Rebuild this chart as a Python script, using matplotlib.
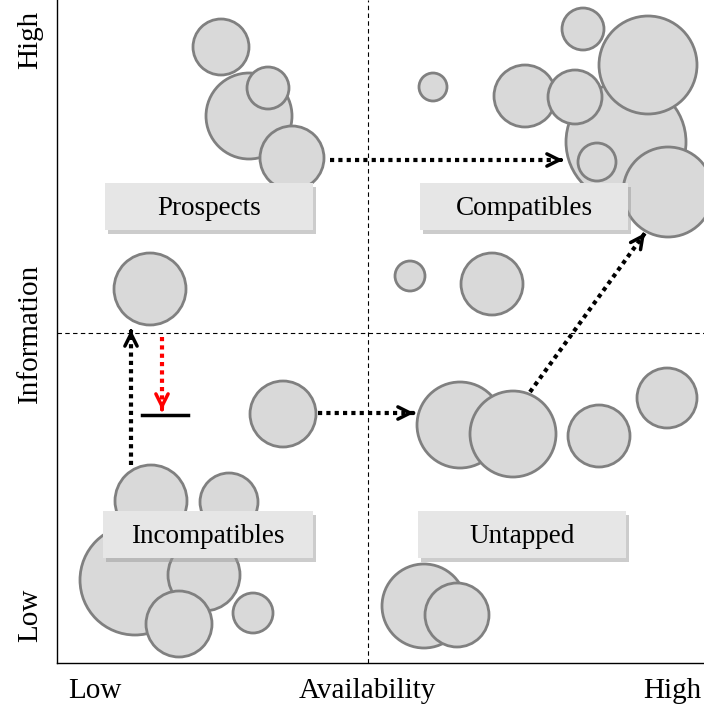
import matplotlib.pyplot as plt
from matplotlib.patches import Circle, Rectangle

plt.rcParams['font.family'] = ['Liberation Serif', 'DejaVu Serif']

# bubbles: centre x, centre y, radius (chart units, y grows downwards)
bubble_x = [249, 221, 268, 292, 150,
            626, 433, 525, 583, 648, 575, 597, 668, 410, 492,
            460, 513, 599, 667, 424, 457,
            283, 151, 229, 135, 204, 179, 253]
bubble_y = [116, 47, 88, 158, 289,
            142, 87, 96, 29, 65, 97, 162, 192, 276, 284,
            425, 434, 436, 398, 606, 615,
            414, 501, 502, 580, 575, 624, 613]
bubble_r = [43, 28, 21, 32, 36,
            60, 14, 31, 21, 49, 27, 19, 45, 15, 31,
            43, 43, 31, 30, 42, 32,
            33, 36, 29, 55, 36, 33, 20]

quadrant_names = ['Prospects', 'Compatibles', 'Incompatibles', 'Untapped']
box_x = [105, 420, 103, 418]
box_y = [183, 183, 511, 511]
box_w = [208, 208, 210, 208]
box_h = 47

# dotted arrows: start -> end
arrow_start = [(330, 160), (318, 413), (530, 392), (131, 465)]
arrow_end = [(563, 160), (414, 413), (645, 233), (131, 330)]


def dotted_arrow(ax, s, e, color):
    ax.plot([s[0], e[0]], [s[1], e[1]], color=color, lw=3, ls=(0, (1, 1)),
            solid_capstyle='butt', zorder=7)
    dx, dy = e[0] - s[0], e[1] - s[1]
    ax.annotate('', xy=e, xytext=(e[0] - dx * 0.01, e[1] - dy * 0.01),
                arrowprops=dict(arrowstyle='->', color=color, lw=2.5,
                                shrinkA=0, shrinkB=0, mutation_scale=22), zorder=8)


fig = plt.figure(figsize=(7.04, 7.10), dpi=100)
ax = fig.add_axes([57 / 704, 47 / 710, 647 / 704, 663 / 710])
ax.set_xlim(57, 704)
ax.set_ylim(663, 0)

for x, y, r in zip(bubble_x, bubble_y, bubble_r):
    ax.add_patch(Circle((x, y), r, facecolor='#d9d9d9', edgecolor='#808080', lw=2, zorder=2))

# quadrant lines
ax.axvline(368, color='black', ls=(0, (4, 3)), lw=0.8, zorder=1)
ax.axhline(333, color='black', ls=(0, (4, 3)), lw=0.8, zorder=1)

for name, x, y, w in zip(quadrant_names, box_x, box_y, box_w):
    ax.add_patch(Rectangle((x + 3, y + 4), w, box_h, facecolor='#9a9a9a', edgecolor='none', alpha=0.5, zorder=4))
    ax.add_patch(Rectangle((x, y), w, box_h, facecolor='#e6e6e6', edgecolor='none', zorder=5))
    ax.text(x + w / 2, y + box_h / 2 + 2, name, ha='center', va='center', fontsize=19.5, zorder=6)

for s, e in zip(arrow_start, arrow_end):
    dotted_arrow(ax, s, e, 'black')

# red arrow onto a stop bar
dotted_arrow(ax, (162, 337), (162, 410), 'red')
ax.plot([142, 188], [415, 415], color='black', lw=2.5, zorder=7)

for side in ['top', 'right']:
    ax.spines[side].set_visible(False)
ax.spines['left'].set_linewidth(1)
ax.spines['bottom'].set_linewidth(1)
ax.set_xticks([])
ax.set_yticks([])

# axis texts
fig.text(95 / 704, 1 - 691 / 710, 'Low', ha='center', va='center', fontsize=21)
fig.text(367 / 704, 1 - 691 / 710, 'Availability', ha='center', va='center', fontsize=21)
fig.text(672 / 704, 1 - 691 / 710, 'High', ha='center', va='center', fontsize=21)
fig.text(30 / 704, 1 - 40 / 710, 'High', ha='center', va='center', rotation=90, fontsize=21)
fig.text(30 / 704, 1 - 333 / 710, 'Information', ha='center', va='center', rotation=90, fontsize=21)
fig.text(30 / 704, 1 - 615 / 710, 'Low', ha='center', va='center', rotation=90, fontsize=21)

fig.savefig('out.png', dpi=100)
